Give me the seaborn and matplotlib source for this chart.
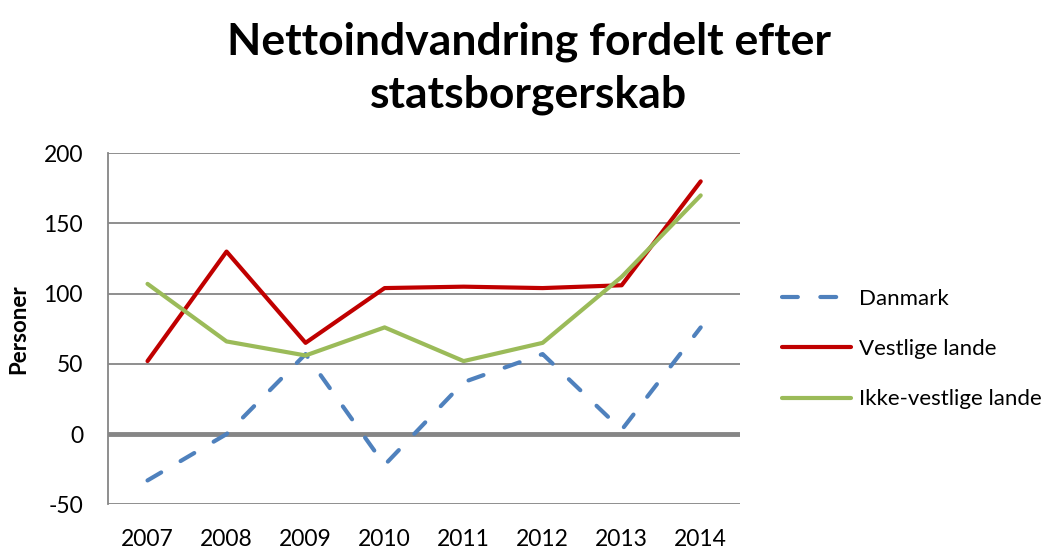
import pandas as pd
import matplotlib
matplotlib.use("Agg")
import matplotlib.pyplot as plt
import seaborn as sns

# Data
years = [2007, 2008, 2009, 2010, 2011, 2012, 2013, 2014]
danmark = [-33, 0, 57, -22, 37, 57, 3, 76]
vestlige = [52, 130, 65, 104, 105, 104, 106, 180]
ikke_vestlige = [107, 66, 56, 76, 52, 65, 112, 170]
series_names = ['Danmark', 'Vestlige lande', 'Ikke-vestlige lande']
y_ticks = [-50, 0, 50, 100, 150, 200]

df = pd.DataFrame({'år': years, 'Danmark': danmark,
                   'Vestlige lande': vestlige,
                   'Ikke-vestlige lande': ikke_vestlige})
long = df.melt(id_vars='år', var_name='serie', value_name='Personer')

sns.set_style('white')
plt.rcParams['font.family'] = ['Lato', 'DejaVu Sans']
plt.rcParams['axes.unicode_minus'] = False
plt.rcParams['text.color'] = 'black'
plt.rcParams['axes.labelcolor'] = 'black'

fig = plt.figure(figsize=(10.62, 5.49), dpi=100)
ax = fig.add_axes([0.1017, 0.0814, 0.5953, 0.6394])

palette = {'Danmark': '#4F81BD', 'Vestlige lande': '#C00000',
           'Ikke-vestlige lande': '#9BBB59'}
dashes = {'Danmark': (3.8, 5.4), 'Vestlige lande': '', 'Ikke-vestlige lande': ''}
sns.lineplot(data=long, x='år', y='Personer', hue='serie', style='serie',
             hue_order=series_names, style_order=series_names,
             palette=palette, dashes=dashes, linewidth=3.0, legend=False,
             ax=ax, zorder=3)
for ln in ax.get_lines():
    ln.set_solid_capstyle('round')
    ln.set_dash_capstyle('round')

ax.set_ylim(-50, 200)
ax.set_xlim(years[0] - 0.5, years[-1] + 0.5)
ax.set_yticks(y_ticks)
ax.set_xticks(years)
ax.tick_params(axis='both', labelsize=16.5, colors='black', length=0, pad=18)
ax.yaxis.grid(True, color='#868686', linewidth=1.3)
ax.axhline(0, color='#868686', linewidth=3.5, zorder=2)
for side in ['top', 'right', 'bottom']:
    ax.spines[side].set_visible(False)
ax.spines['left'].set_color('#868686')
ax.spines['left'].set_linewidth(1.3)
ax.set_xlabel('')
ax.set_ylabel('Personer', fontsize=16, fontweight='bold')
ax.yaxis.set_label_coords(-0.125, 0.5)

fig.text(0.498, 1 - 55 / 549, 'Nettoindvandring fordelt efter',
         ha='center', va='baseline', fontsize=32, fontweight='bold')
fig.text(0.498, 1 - 107 / 549, 'statsborgerskab',
         ha='center', va='baseline', fontsize=32, fontweight='bold')

fig.legend(handles=ax.get_lines()[:3], labels=series_names,
           loc='center left', bbox_to_anchor=(0.7175, 0.364), frameon=False,
           fontsize=16, handlelength=3.1, labelspacing=1.36, handletextpad=0.35)

fig.savefig('out.png', dpi=100)
